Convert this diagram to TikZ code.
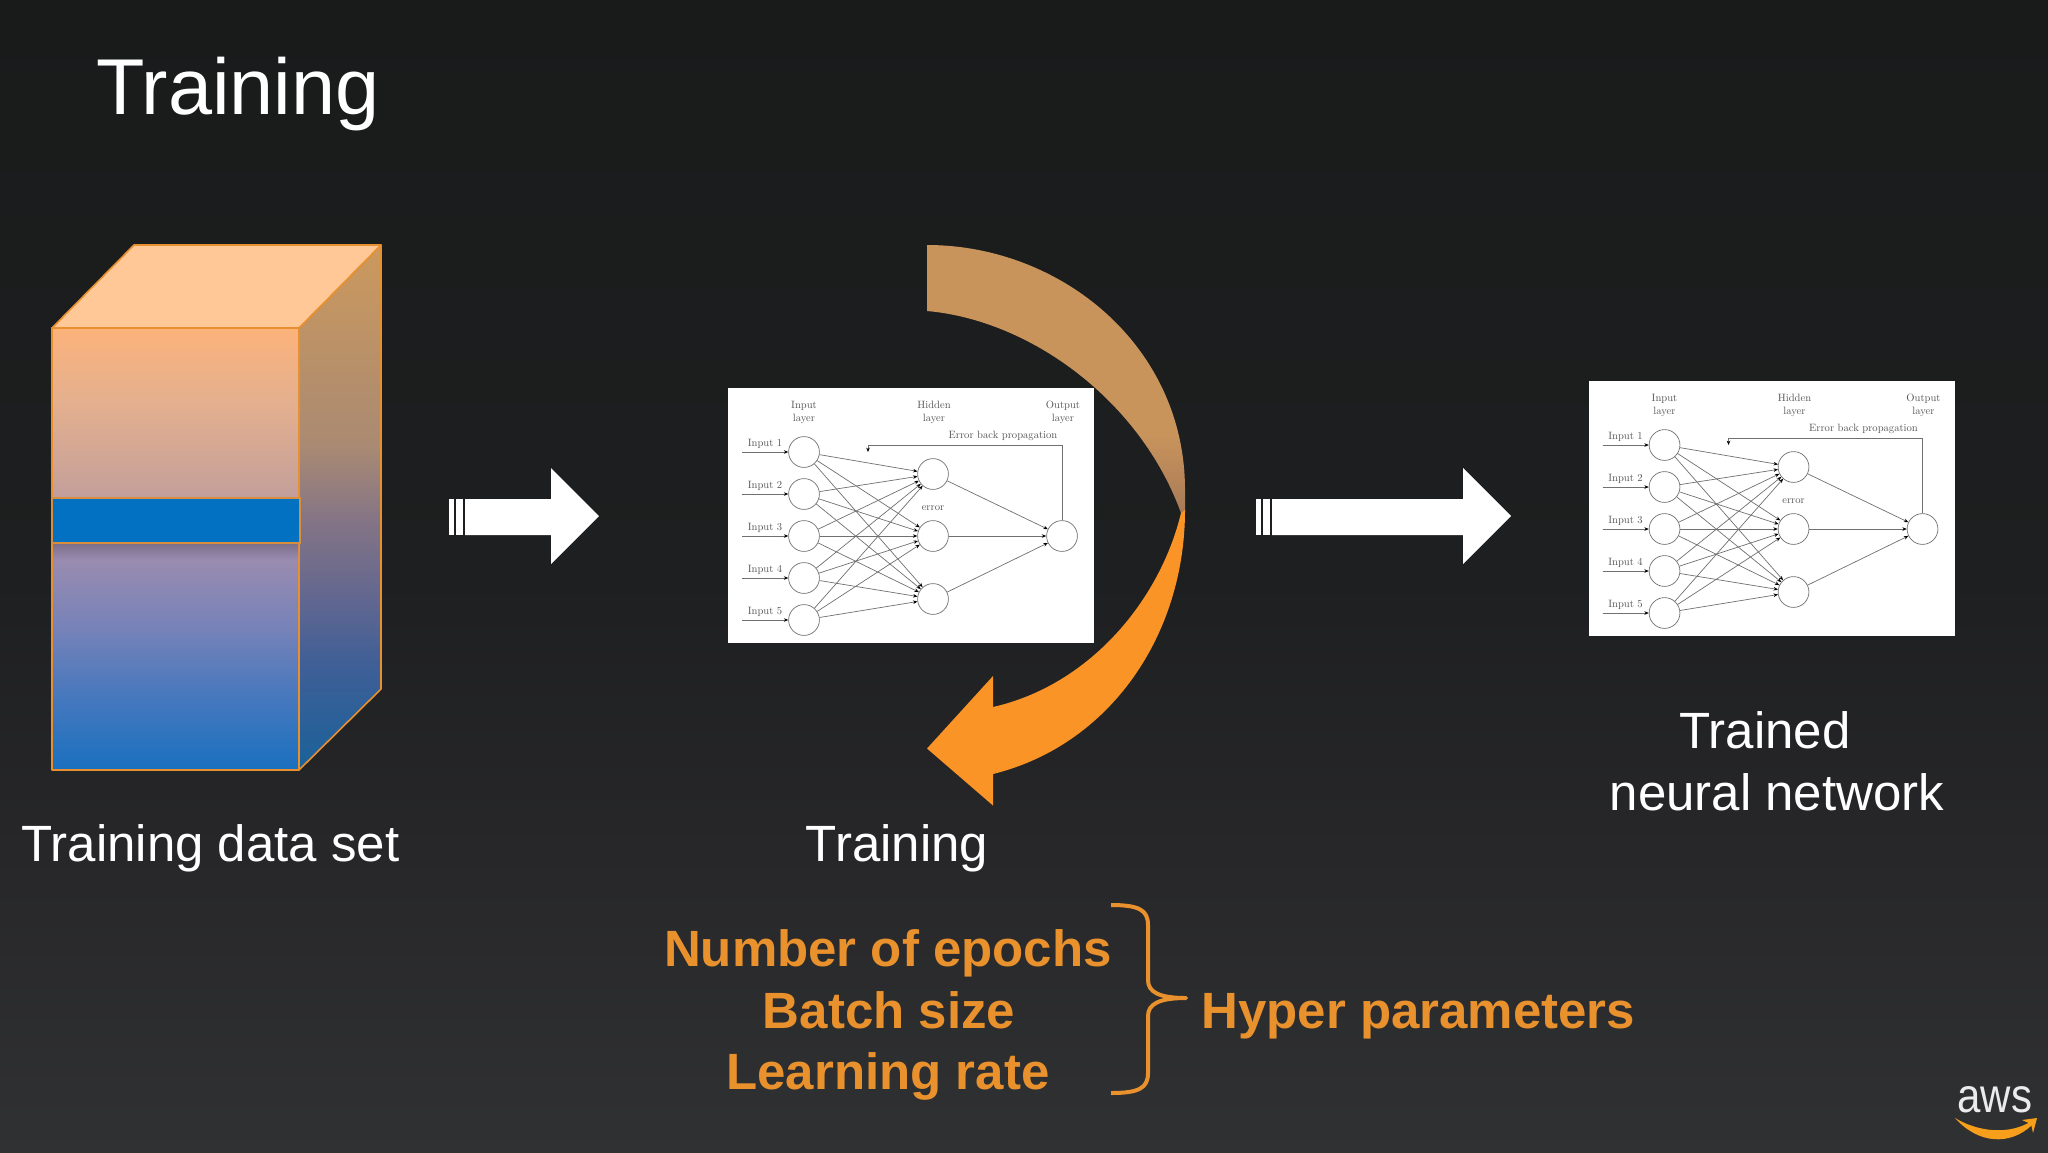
\documentclass[tikz,border=0pt]{standalone}
\usepackage{fontspec}
\usepackage{graphicx}
\setmainfont{Liberation Sans}
\newfontfamily\nnfont[Extension=.otf]{lmroman10-regular}
\usetikzlibrary{arrows.meta}
\definecolor{bgtop}{HTML}{191B1B}
\definecolor{bgmid}{HTML}{1E1F20}
\definecolor{bglow}{HTML}{272729}
\definecolor{bgbot}{HTML}{303133}
\definecolor{edgeor}{HTML}{E8902F}
\definecolor{txtor}{HTML}{E8912D}
\definecolor{nngray}{HTML}{707070}
\definecolor{nntext}{HTML}{555555}
\definecolor{bandblue}{HTML}{0271C2}
\definecolor{fa}{HTML}{1A70BF}
\definecolor{fb}{HTML}{4578BE}
\definecolor{fc}{HTML}{7682B8}
\definecolor{fd}{HTML}{9A8CB0}
\definecolor{fe}{HTML}{C7A199}
\definecolor{ff}{HTML}{E5B08E}
\definecolor{fg}{HTML}{FCB27A}
\definecolor{sa}{HTML}{1A6199}
\definecolor{sb}{HTML}{3F5F97}
\definecolor{sc}{HTML}{65688F}
\definecolor{sd}{HTML}{857585}
\definecolor{se}{HTML}{AA8A72}
\definecolor{sf}{HTML}{CC995C}
\definecolor{topface}{HTML}{FFC896}
\definecolor{cup}{HTML}{C9945C}
\definecolor{cmid}{HTML}{A87A57}
\definecolor{clow}{HTML}{FA9426}
\definecolor{smile}{HTML}{F79E1A}
\definecolor{shadtop}{HTML}{7B6F8A}
\definecolor{shadbot}{HTML}{9A8CB0}
\pgfdeclareverticalshading{bgshade}{100bp}{color(0bp)=(bgbot); color(25bp)=(bgbot); color(38bp)=(bglow); color(50bp)=(bgmid); color(75bp)=(bgtop); color(100bp)=(bgtop)}
\pgfdeclareverticalshading{frontshade}{100bp}{
 color(0bp)=(fa); color(25bp)=(fa); color(33bp)=(fb); color(41bp)=(fc); color(49bp)=(fd); color(57bp)=(fe); color(67bp)=(ff); color(75bp)=(fg); color(100bp)=(fg)}
\pgfdeclareverticalshading{sideshade}{100bp}{
 color(0bp)=(sa); color(25bp)=(sa); color(35bp)=(sb); color(42bp)=(sc); color(49bp)=(sd); color(56bp)=(se); color(75bp)=(sf); color(100bp)=(sf)}
\pgfdeclareverticalshading{upperband}{100bp}{
 color(0bp)=(cmid); color(25bp)=(cmid); color(40bp)=(cup); color(100bp)=(cup)}
\tikzset{
 x=0.5pt,y=-0.5pt,
 cubeface/.style={draw=edgeor,line width=0.8pt,line join=round},
 blockarrow/.style={fill=white,draw=none},
 nncircle/.style={circle,draw=nngray,line width=0.35pt,fill=white,minimum size=15.4pt,inner sep=0pt},
 nnlink/.style={draw=nngray,line width=0.35pt,-{Stealth[length=2.2pt,width=1.8pt,color=black]}},
 nnlabel/.style={font=\nnfont\fontsize{5.3}{6.5}\selectfont,text=nntext,inner sep=0pt,align=center},
 whitelabel/.style={font=\fontsize{25.5}{30}\selectfont,text=white,inner sep=0pt},
 orangelabel/.style={font=\fontsize{25.5}{30}\selectfont\bfseries,text=txtor,inner sep=0pt},
}
% one network picture: prefix, shift x, shift y
\newcommand{\nnfig}[3]{%
\begin{scope}[shift={(#2,#3)}]
 \fill[white] (728,388) rectangle (1094,643);
 \foreach \i/\yy in {1/452,2/494,3/536,4/578,5/620}{
  \node[nncircle] (#1in\i) at (804,\yy) {};
  \coordinate (#1src\i) at (742,\yy);
  \draw[nnlink] (#1src\i) -- (#1in\i);
  \node[nnlabel] (#1lab\i) at (765,\yy-8) {Input \i};
 }
 \node[nncircle] (#1h1) at (933,474) {};
 \node[nncircle] (#1h2) at (933,536) {};
 \node[nncircle] (#1h3) at (933,599) {};
 \node[nncircle] (#1out) at (1062,536) {};
 \foreach \i in {1,...,5}{\foreach \j in {1,2,3}{\draw[nnlink] (#1in\i) -- (#1h\j);}}
 \foreach \j in {1,2,3}{\draw[nnlink] (#1h\j) -- (#1out);}
 \node[nnlabel] (#1t1) at (804,412) {Input\\layer};
 \node[nnlabel] (#1t2) at (934,412) {Hidden\\layer};
 \node[nnlabel] (#1t3) at (1063,412) {Output\\layer};
 \node[nnlabel] (#1t4) at (1003,436) {Error back propagation};
 \node[nnlabel] (#1t5) at (933,508) {error};
 \coordinate (#1back) at (868,452);
 \draw[nnlink] (#1out.north) |- (868,445) -- (#1back);
\end{scope}}
\newcommand{\blockarr}[2]{%
 \fill[blockarrow] (#1+16,499) -- (#2-48,499) -- (#2-48,468) -- (#2,516) -- (#2-48,564) -- (#2-48,535) -- (#1+16,535) -- cycle;
 \fill[blockarrow] (#1,499) rectangle (#1+4.5,535);
 \fill[blockarrow] (#1+7,499) rectangle (#1+13.5,535);
}
\begin{document}
\begin{tikzpicture}
\useasboundingbox (0,0) rectangle (2048,1152);
\shade[shading=bgshade] (0,0) rectangle (2048,1152);
% title
\node[font=\fontsize{39.6}{44}\selectfont,text=white,anchor=base west,inner sep=0pt] (title) at (96,114) {Training};
% cube
\shade[shading=sideshade,cubeface] (299,328) -- (381,245) -- (381,689) -- (299,770) -- cycle;
\filldraw[fill=topface,cubeface] (52,328) -- (134,245) -- (381,245) -- (299,328) -- cycle;
\shade[shading=frontshade,cubeface] (52,328) rectangle (299,770);
\shade[top color=shadtop,bottom color=shadbot] (53,543) rectangle (298,560);
\filldraw[fill=bandblue,draw=edgeor!85!gray,line width=0.7pt] (52,498) rectangle (300,543);
% block arrows
\blockarr{449}{599}
\blockarr{1256}{1511}
% network pictures
\nnfig{a}{0}{0}
\nnfig{b}{860.5}{-7}
% curved arrow
\shade[shading=upperband]
 (927,245) .. controls (1060,245) and (1185,345) .. (1185,490) -- (1185,513) -- (1181,513) .. controls (1140,400) and (1030,320) .. (927,311) -- cycle;
\fill[clow]
 (1185,510) .. controls (1185,635) and (1110,745) .. (993,774) -- (993,805.5) -- (927,748.5) -- (993,676) -- (993,707) .. controls (1090,685) and (1160,600) .. (1181,513) -- cycle;
% labels
\node[whitelabel,anchor=base west] (ldata) at (21,861) {Training data set};
\node[whitelabel,anchor=base] (ltrain) at (897,861) {Training};
\node[whitelabel,anchor=base] (ltr1) at (1765,748) {Trained};
\node[whitelabel,anchor=base] (ltr2) at (1777,810) {neural network};
\node[orangelabel,anchor=base] (h1) at (888,966) {Number of epochs};
\node[orangelabel,anchor=base] (h2) at (889,1028) {Batch size};
\node[orangelabel,anchor=base] (h3) at (888,1089) {Learning rate};
\node[orangelabel,anchor=base west] (hp) at (1201,1028) {Hyper parameters};
% brace
\draw[txtor,line width=2pt,line join=round]
 (1111,905) .. controls (1139,905) and (1148,910) .. (1148,925) -- (1148,980)
 .. controls (1148,992) and (1159,998) .. (1186,998)
 .. controls (1159,998) and (1148,1004) .. (1148,1016) -- (1148,1073)
 .. controls (1148,1088) and (1139,1093) .. (1111,1093);
% aws logo
\node[font=\fontsize{21}{24}\selectfont,text=white!92!black,anchor=base west,inner sep=0pt] (aws) at (1957,1112) {\scalebox{1}[1.15]{aws}};
\fill[smile] (1955,1118) .. controls (1980,1133) and (2010,1134) .. (2030,1122) -- (2032,1125) .. controls (2010,1146) and (1978,1144) .. (1955,1118) -- cycle;
\fill[smile] (2022,1120) -- (2037,1118) -- (2033,1133) -- (2031,1124) -- cycle;
\end{tikzpicture}
\end{document}
